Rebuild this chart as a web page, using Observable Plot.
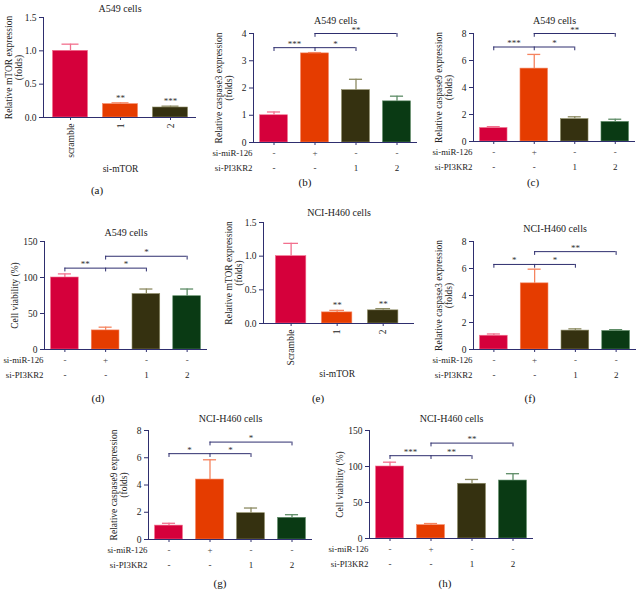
<!DOCTYPE html>
<html><head><meta charset="utf-8">
<script src="https://cdn.jsdelivr.net/npm/d3@7"></script>
<script src="https://cdn.jsdelivr.net/npm/@observablehq/plot@0.6"></script>
<style>
body{margin:0;background:#fff;}
#fig{position:relative;width:637px;height:591px;overflow:hidden;font-family:"Liberation Serif",serif;background:#fff;}
.p{position:absolute;}
.p text{font-family:"Liberation Serif",serif;}
.lab{position:absolute;font-size:11px;transform:translate(-50%,-50%);color:#111;}
</style></head><body><div id="fig"></div>
<script>
// ---------- data ----------
const siMiR126 = ["-", "+", "-", "-"];
const siPI3KR2 = ["-", "-", "1", "2"];

// (a) A549 mTOR
const aLabels = ["scramble", "1", "2"];
const aValues = [1.0, 0.2, 0.15];
const aSD = [0.1, 0.02, 0.02];
const aStars = ["", "**", "***"];
// (b) A549 caspase3
const bValues = [1.0, 3.27, 1.92, 1.51];
const bSD = [0.12, 0.03, 0.4, 0.19];
const bStars = ["***", "*", "**"];
const bLevels = [3.48, 4.0];
// (c) A549 caspase9
const cValues = [1.0, 5.4, 1.66, 1.45];
const cSD = [0.1, 1.05, 0.17, 0.2];
const cStars = ["***", "*", "**"];
const cLevels = [7.0, 8.0];
// (d) A549 viability
const dValues = [100, 26.5, 77, 74];
const dSD = [5, 4.5, 7, 10];
const dStars = ["**", "*", "*"];
const dLevels = [113, 129.5];
// (e) NCI-H460 mTOR
const eLabels = ["Scramble", "1", "2"];
const eValues = [1.0, 0.165, 0.195];
const eSD = [0.19, 0.03, 0.025];
const eStars = ["", "**", "**"];
// (f) NCI-H460 caspase3
const fValues = [1.02, 4.9, 1.4, 1.37];
const fSD = [0.13, 1.05, 0.13, 0.1];
const fStars = ["*", "*", "**"];
const fLevels = [6.3, 7.25];
// (g) NCI-H460 caspase9
const gValues = [1.02, 4.4, 1.93, 1.59];
const gSD = [0.17, 1.45, 0.38, 0.23];
const gStars = ["*", "*", "*"];
const gLevels = [6.3, 7.15];
// (h) NCI-H460 viability
const hValues = [100, 18.5, 76, 80.5];
const hSD = [6, 2.3, 6, 9.5];
const hStars = ["***", "**", "**"];
const hLevels = [115, 132.5];

// ---------- styles ----------
const navy = "#2e2e6e";
const fills = ["#d5003b", "#e53c00", "#353110", "#0a3a14"];
const errs = ["#f2708e", "#f5845f", "#8c8a62", "#5d8c66"];
const serif = "Liberation Serif, serif";
const fig = document.getElementById("fig");

function panel(o) {
  const data = o.values.map((v, k) => ({i: k + 1, v, top: v + o.sd[k], k, star: o.stars ? o.stars[k] : ""}));
  const ml = 52, mr = 8, mt = 26, mb = 64;
  const w = ml + (o.axisEnd - o.axisX) + mr;
  const h = mt + (o.yBottom - o.yTop) + mb;
  const hw = o.half, cap = o.cap;
  const dd = o.yMax * 0.035;
  const T = {fontFamily: serif};
  const marks = [
    Plot.rect(data, {x1: d => d.i - hw, x2: d => d.i + hw, y1: () => 0, y2: "v", fill: d => fills[d.k], stroke: d => errs[d.k], strokeWidth: 0.6}),
    Plot.ruleX(data, {x: "i", y1: "v", y2: "top", stroke: d => errs[d.k], strokeWidth: 1.3}),
    Plot.ruleY(data, {x1: d => d.i - cap, x2: d => d.i + cap, y: "top", stroke: d => errs[d.k], strokeWidth: 1.3}),
    Plot.ruleY([0], {stroke: navy, strokeWidth: 1}),
    Plot.ruleX([o.xDomain[0]], {y1: 0, y2: o.yMax, stroke: navy, strokeWidth: 1}),
    Plot.axisY({ticks: o.yTicks, tickFormat: o.yFmt, tickSize: 4, tickPadding: 3, label: null, stroke: navy, fill: "#222", fontSize: 9.5, ...T}),
    Plot.text([o.title], {frameAnchor: "top", dy: -o.titleGap, fontSize: 10, fill: "#222", ...T}),
    Plot.text([o.ylabel], {frameAnchor: "left", textAnchor: "middle", lineAnchor: "middle", rotate: -90, dx: -30, fontSize: 9.5, lineHeight: 1.15, fill: "#222", ...T})
  ];
  if (o.labels) {
    marks.push(Plot.axisX({ticks: data.map(d => d.i), tickSize: 3, tickRotate: -90, tickPadding: 3, tickFormat: i => o.labels[i - 1], label: null, stroke: navy, fill: "#222", fontSize: 9.5, ...T}));
    marks.push(Plot.text(data.filter(d => d.star), {x: "i", y: "top", text: "star", dy: -2, lineAnchor: "bottom", fontSize: 9, fill: "#333", ...T}));
    marks.push(Plot.text([o.xTitle], {x: () => 2, frameAnchor: "bottom", lineAnchor: "middle", dy: o.xTitleGap, fontSize: 9.5, fill: "#222", ...T}));
  } else {
    marks.push(Plot.axisX({ticks: data.map(d => d.i), tickSize: 3, tickFormat: () => "", label: null, stroke: navy}));
    const [yL, yU] = o.levels;
    marks.push(Plot.ruleY([yL], {x1: () => 1, x2: () => 3, stroke: navy, strokeWidth: 1}));
    marks.push(Plot.ruleY([yU], {x1: () => 2, x2: () => 4, stroke: navy, strokeWidth: 1}));
    marks.push(Plot.ruleX([1, 2, 3], {y1: yL - dd, y2: yL, stroke: navy, strokeWidth: 1}));
    marks.push(Plot.ruleX([2, 4], {y1: yU - dd, y2: yU, stroke: navy, strokeWidth: 1}));
    const starData = [{x: 1.5, y: yL, t: o.stars[0]}, {x: 2.5, y: yL, t: o.stars[1]}, {x: 3, y: yU, t: o.stars[2]}];
    marks.push(Plot.text(starData, {x: "x", y: "y", text: "t", dy: -1, lineAnchor: "bottom", fontSize: 9, fill: "#333", ...T}));
    marks.push(Plot.text(siMiR126, {x: (d, k) => k + 1, text: d => d, frameAnchor: "bottom", lineAnchor: "middle", dy: 11, fontSize: 9, fill: "#444", ...T}));
    marks.push(Plot.text(siPI3KR2, {x: (d, k) => k + 1, text: d => d, frameAnchor: "bottom", lineAnchor: "middle", dy: 26, fontSize: 9, fill: "#222", ...T}));
    marks.push(Plot.text(["si-miR-126"], {frameAnchor: "bottom-left", lineAnchor: "middle", dx: -1, dy: 11, textAnchor: "end", fontSize: 8.8, fill: "#222", ...T}));
    marks.push(Plot.text(["si-PI3KR2"], {frameAnchor: "bottom-left", lineAnchor: "middle", dx: -1, dy: 26, textAnchor: "end", fontSize: 8.8, fill: "#222", ...T}));
  }
  const svg = Plot.plot({
    width: w, height: h,
    marginLeft: ml, marginRight: mr, marginTop: mt, marginBottom: mb,
    x: {domain: o.xDomain},
    y: {domain: [0, o.yMax]},
    color: {type: "identity"},
    style: {fontFamily: serif, fontSize: "9.5px", overflow: "visible", background: "transparent"},
    marks
  });
  svg.classList.add("p");
  svg.style.left = (o.axisX - ml) + "px";
  svg.style.top = (o.yTop - mt) + "px";
  fig.appendChild(svg);
  const lab = document.createElement("div");
  lab.className = "lab";
  lab.textContent = o.letter;
  lab.style.left = o.letterPos[0] + "px";
  lab.style.top = o.letterPos[1] + "px";
  fig.appendChild(lab);
}

const f1 = d3.format(".1f");
const f0 = d3.format("d");
const four = {xDomain: [0.5, 4.5], half: 0.34, cap: 0.16};

panel({letter: "(a)", letterPos: [97, 190], axisX: 43, axisEnd: 196, yTop: 17, yBottom: 117,
  xDomain: [0.46, 3.52], half: 0.35, cap: 0.17, labels: aLabels, xTitle: "si-mTOR", xTitleGap: 51,
  values: aValues, sd: aSD, stars: aStars, yMax: 1.5, yTicks: [0, 0.5, 1, 1.5], yFmt: f1,
  title: "A549 cells", titleGap: 13, ylabel: "Relative mTOR expression\n(folds)"});
panel({...four, letter: "(b)", letterPos: [305, 182], axisX: 253, axisEnd: 417, yTop: 33, yBottom: 142,
  values: bValues, sd: bSD, stars: bStars, levels: bLevels, yMax: 4, yTicks: [0, 1, 2, 3, 4], yFmt: f0,
  title: "A549 cells", titleGap: 17, ylabel: "Relative caspase3 expression\n(folds)"});
panel({...four, letter: "(c)", letterPos: [533, 182], axisX: 473, axisEnd: 635, yTop: 33, yBottom: 141,
  values: cValues, sd: cSD, stars: cStars, levels: cLevels, yMax: 8, yTicks: [0, 2, 4, 6, 8], yFmt: f0,
  title: "A549 cells", titleGap: 17, ylabel: "Relative caspase9 expression\n(folds)"});
panel({...four, letter: "(d)", letterPos: [98, 398], axisX: 44, axisEnd: 207, yTop: 241, yBottom: 349,
  values: dValues, sd: dSD, stars: dStars, levels: dLevels, yMax: 150, yTicks: [0, 50, 100, 150], yFmt: f0,
  title: "A549 cells", titleGap: 13, ylabel: "Cell viability (%)"});
panel({letter: "(e)", letterPos: [318, 398], axisX: 263, axisEnd: 414, yTop: 222, yBottom: 323,
  xDomain: [0.4, 3.68], half: 0.33, cap: 0.16, labels: eLabels, xTitle: "si-mTOR", xTitleGap: 50,
  values: eValues, sd: eSD, stars: eStars, yMax: 1.5, yTicks: [0, 0.5, 1, 1.5], yFmt: f1,
  title: "NCI-H460 cells", titleGap: 14, ylabel: "Relative mTOR expression\n(folds)"});
panel({...four, letter: "(f)", letterPos: [530, 398], axisX: 473, axisEnd: 636, yTop: 241, yBottom: 349,
  values: fValues, sd: fSD, stars: fStars, levels: fLevels, yMax: 8, yTicks: [0, 2, 4, 6, 8], yFmt: f0,
  title: "NCI-H460 cells", titleGap: 17, ylabel: "Relative caspase3 expression\n(folds)"});
panel({...four, letter: "(g)", letterPos: [220, 583], axisX: 148, axisEnd: 312, yTop: 430, yBottom: 539,
  values: gValues, sd: gSD, stars: gStars, levels: gLevels, yMax: 8, yTicks: [0, 2, 4, 6, 8], yFmt: f0,
  title: "NCI-H460 cells", titleGap: 16, ylabel: "Relative caspase9 expression\n(folds)"});
panel({...four, letter: "(h)", letterPos: [445, 583], axisX: 369, axisEnd: 533, yTop: 430, yBottom: 538,
  values: hValues, sd: hSD, stars: hStars, levels: hLevels, yMax: 150, yTicks: [0, 50, 100, 150], yFmt: f0,
  title: "NCI-H460 cells", titleGap: 16, ylabel: "Cell viability (%)"});
</script></body></html>
